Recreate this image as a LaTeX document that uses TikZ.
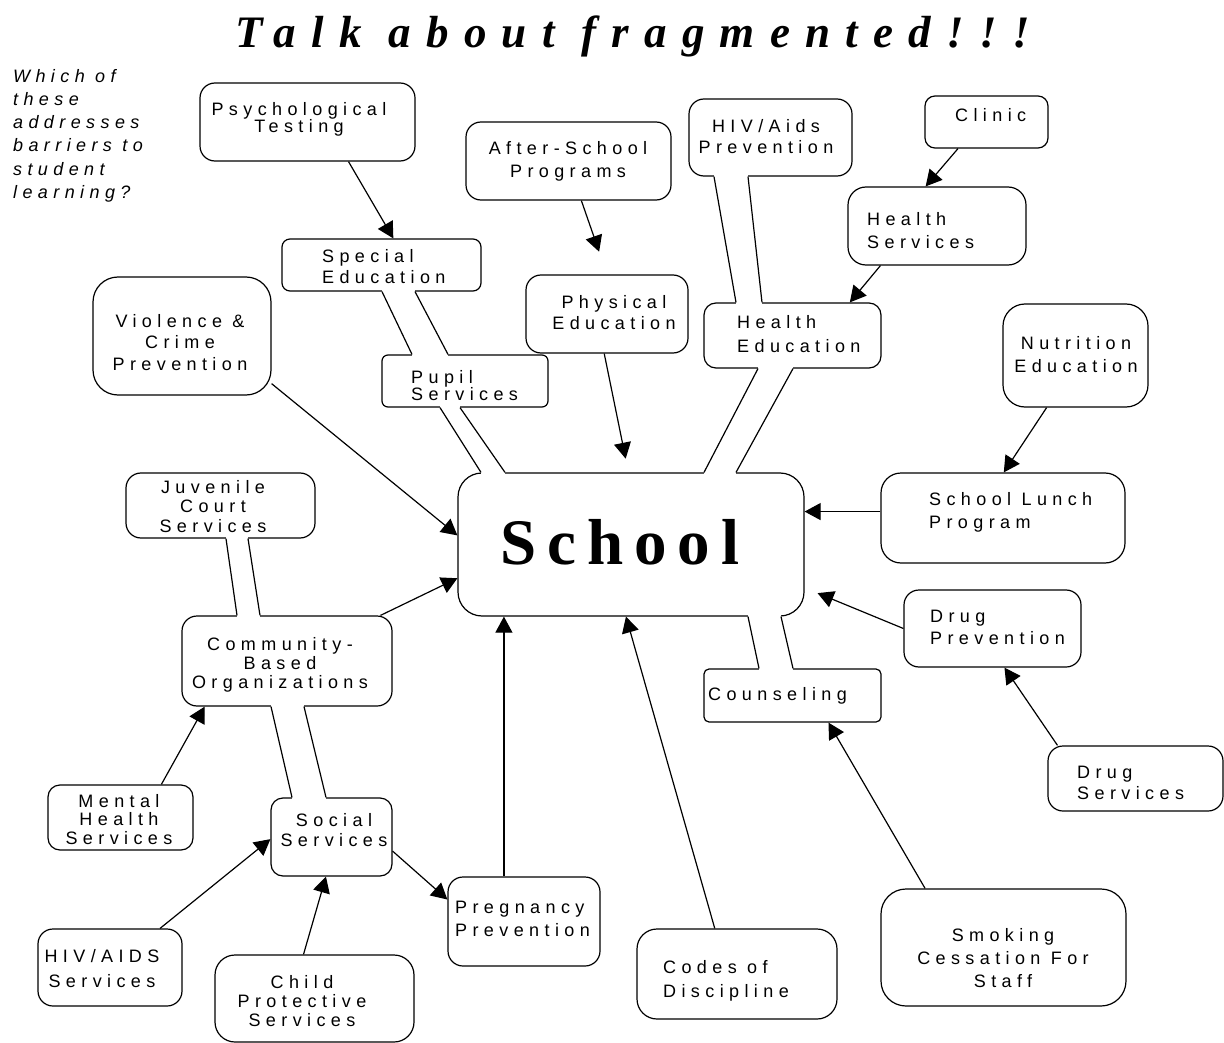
\documentclass[tikz,border=0pt]{standalone}
\usepackage{fontspec}
\usetikzlibrary{arrows.meta}
\newfontfamily\boxfont[LetterSpace=30]{Liberation Sans}
\newfontfamily\titlefont[LetterSpace=34]{Liberation Serif}
\newfontfamily\schoolfont[LetterSpace=17]{Liberation Serif}

\tikzset{
  box/.style={draw, line width=1.2pt, rounded corners=#1, inner sep=0pt},
  box/.default=15pt,
  txt/.style={font=\boxfont\fontsize{18}{#1}\selectfont, inner sep=0pt, align=center, anchor=north},
  txt/.default=21,
  arr/.style={line width=1.2pt, -{Triangle[length=16pt,width=17pt]}},
  link/.style={line width=1.2pt},
  gapline/.style={white, line width=3pt},
}

\begin{document}
\begin{tikzpicture}[x=1pt, y=-1pt]
    \useasboundingbox (0,0) rectangle (1224,1043);

    % Titre et question
    \node[anchor=base west, inner sep=0pt, font=\titlefont\bfseries\itshape\fontsize{45}{50}\selectfont] (title) at (235,48) {Talk about fragmented!!!};
    \node[inner sep=0pt, align=left, anchor=north west, font=\boxfont\itshape\fontsize{18}{23.2}\selectfont] (question) at (13,69) {Which of\\these\\addresses\\barriers to\\student\\learning?};

    % Boites
    \node[box=15pt, minimum width=215pt, minimum height=78pt] (psych) at (307.5,122) {};
    \node[box=15pt, minimum width=205pt, minimum height=78pt] (after) at (568.5,161) {};
    \node[box=15pt, minimum width=163pt, minimum height=77pt] (hivp) at (770.5,137.5) {};
    \node[box=10pt, minimum width=123pt, minimum height=52pt] (clinic) at (986.5,122) {};
    \node[box=18pt, minimum width=178pt, minimum height=78pt] (hserv) at (937,226) {};
    \node[box=8pt, minimum width=199pt, minimum height=52pt] (spec) at (381.5,265) {};
    \node[box=15pt, minimum width=162pt, minimum height=78pt] (phys) at (607,314) {};
    \node[box=12pt, minimum width=177pt, minimum height=65pt] (hedu) at (792.5,335.5) {};
    \node[box=25pt, minimum width=178pt, minimum height=118pt] (viol) at (182,336) {};
    \node[box=6pt, minimum width=166pt, minimum height=52pt] (pupil) at (465,381) {};
    \node[box=22pt, minimum width=145pt, minimum height=103pt] (nutr) at (1075.5,355.5) {};
    \node[box=24pt, minimum width=346pt, minimum height=143pt] (school) at (631,544.5) {};
    \node[box=15pt, minimum width=189pt, minimum height=65pt] (juv) at (220.5,505.5) {};
    \node[box=20pt, minimum width=244pt, minimum height=90pt] (lunch) at (1003,518) {};
    \node[box=15pt, minimum width=210pt, minimum height=90pt] (comm) at (287,661) {};
    \node[box=15pt, minimum width=177pt, minimum height=77pt] (drugp) at (992.5,628.5) {};
    \node[box=5pt, minimum width=177pt, minimum height=53pt] (couns) at (792.5,695.5) {};
    \node[box=15pt, minimum width=175pt, minimum height=65pt] (drugs) at (1135.5,778.5) {};
    \node[box=12pt, minimum width=145pt, minimum height=65pt] (mental) at (120.5,817.5) {};
    \node[box=12pt, minimum width=121pt, minimum height=78pt] (social) at (331.5,837) {};
    \node[box=15pt, minimum width=152pt, minimum height=89pt] (preg) at (524,921.5) {};
    \node[box=25pt, minimum width=245pt, minimum height=117pt] (smoke) at (1003.5,947.5) {};
    \node[box=20pt, minimum width=200pt, minimum height=90pt] (codes) at (737,974) {};
    \node[box=15pt, minimum width=144pt, minimum height=77pt] (hiva) at (110,967.5) {};
    \node[box=20pt, minimum width=199pt, minimum height=87pt] (child) at (314.5,998.5) {};

    % Textes
    \node[txt=17] (psych-t) at (299,102) {Psychological\\Testing};
    \node[txt=23] (after-t) at (568,141) {After-School\\Programs};
    \node[txt=21] (hivp-t) at (766,119) {HIV/Aids\\Prevention};
    \node[txt, anchor=north west] (clinic-t) at (955,108) {Clinic};
    \node[txt=23, align=left, anchor=north west] (hserv-t) at (867,212) {Health\\Services};
    \node[txt=21, align=left, anchor=north west] (spec-t) at (322,249) {Special\\Education};
    \node[txt=21] (phys-t) at (614,295) {Physical\\Education};
    \node[txt=24, align=left, anchor=north west] (hedu-t) at (737,315) {Health\\Education};
    \node[txt=21.5] (viol-t) at (180,314) {Violence \&\\Crime\\Prevention};
    \node[txt=17, align=left, anchor=north west] (pupil-t) at (411,370) {Pupil\\Services};
    \node[txt=23] (nutr-t) at (1076,336) {Nutrition\\Education};
    \node[anchor=base west, inner sep=0pt, font=\schoolfont\bfseries\fontsize{65}{70}\selectfont] (school-t) at (500,564) {School};
    \node[txt=19.5] (juv-t) at (213,480) {Juvenile\\Court\\Services};
    \node[txt=23, align=left, anchor=north west] (lunch-t) at (929,492) {School Lunch\\Program};
    \node[txt=19] (comm-t) at (280,637) {Community-\\Based\\Organizations};
    \node[txt=22, align=left, anchor=north west] (drugp-t) at (930,610) {Drug\\Prevention};
    \node[txt, anchor=north west] (couns-t) at (708,687) {Counseling};
    \node[txt=21, align=left, anchor=north west] (drugs-t) at (1077,766) {Drug\\Services};
    \node[txt=18.5] (mental-t) at (119,794) {Mental\\Health\\Services};
    \node[txt=20] (social-t) at (334,813) {Social\\Services};
    \node[txt=23, align=left, anchor=north west] (preg-t) at (455,901) {Pregnancy\\Prevention};
    \node[txt=23] (smoke-t) at (1003,928) {Smoking\\Cessation For\\Staff};
    \node[txt=24, align=left, anchor=north west] (codes-t) at (663,960) {Codes of\\Discipline};
    \node[txt=25] (hiva-t) at (102,949) {HIV/AIDS\\Services};
    \node[txt=19] (child-t) at (302,975) {Child\\Protective\\Services};

    % Liaisons doubles
    \draw[gapline] ([xshift=0.5pt]spec.south) -- ([xshift=33.5pt]spec.south)
                   ([xshift=-53pt]pupil.north) -- ([xshift=-17pt]pupil.north);
    \draw[link] ([xshift=0.5pt]spec.south) -- ([xshift=-53pt]pupil.north)
                ([xshift=33.5pt]spec.south) -- ([xshift=-17pt]pupil.north);
    \draw[gapline] ([xshift=-25pt]pupil.south) -- ([xshift=-5pt]pupil.south)
                   ([xshift=-150pt]school.north) -- ([xshift=-126pt]school.north);
    \draw[link] ([xshift=-25pt]pupil.south) -- ([xshift=-150pt]school.north)
                ([xshift=-5pt]pupil.south) -- ([xshift=-126pt]school.north);
    \draw[gapline] ([xshift=-56.5pt]hivp.south) -- ([xshift=-22.5pt]hivp.south)
                   ([xshift=-56.5pt]hedu.north) -- ([xshift=-30.5pt]hedu.north);
    \draw[link] ([xshift=-56.5pt]hivp.south) -- ([xshift=-56.5pt]hedu.north)
                ([xshift=-22.5pt]hivp.south) -- ([xshift=-30.5pt]hedu.north);
    \draw[gapline] ([xshift=-34.5pt]hedu.south) -- ([xshift=0.5pt]hedu.south)
                   ([xshift=73pt]school.north) -- ([xshift=105pt]school.north);
    \draw[link] ([xshift=-34.5pt]hedu.south) -- ([xshift=73pt]school.north)
                ([xshift=0.5pt]hedu.south) -- ([xshift=105pt]school.north);
    \draw[gapline] ([xshift=117pt]school.south) -- ([xshift=150pt]school.south)
                   ([xshift=-33.5pt]couns.north) -- ([xshift=0.5pt]couns.north);
    \draw[link] ([xshift=117pt]school.south) -- ([xshift=-33.5pt]couns.north)
                ([xshift=150pt]school.south) -- ([xshift=0.5pt]couns.north);
    \draw[gapline] ([xshift=5.5pt]juv.south) -- ([xshift=27.5pt]juv.south)
                   ([xshift=-50pt]comm.north) -- ([xshift=-27pt]comm.north);
    \draw[link] ([xshift=5.5pt]juv.south) -- ([xshift=-50pt]comm.north)
                ([xshift=27.5pt]juv.south) -- ([xshift=-27pt]comm.north);
    \draw[gapline] ([xshift=-16pt]comm.south) -- ([xshift=17pt]comm.south)
                   ([xshift=-39.5pt]social.north) -- ([xshift=-5.5pt]social.north);
    \draw[link] ([xshift=-16pt]comm.south) -- ([xshift=-39.5pt]social.north)
                ([xshift=17pt]comm.south) -- ([xshift=-5.5pt]social.north);

    % Fleches
    \draw[arr] (psych.-44) -- (spec.66);
    \draw[arr, shorten >=24pt] (after.-72) -- (phys.north);
    \draw[arr, shorten >=14pt] (phys.-94) -- (school.92);
    \draw[arr] (clinic.-137) -- (hserv.106);
    \draw[arr] (hserv.-145) -- (hedu.30);
    \draw[arr] (nutr.-119) -- (lunch.89);
    \draw[arr] (lunch.177) -- (lunch.177 -| school.east);
    \draw[arr, shorten >=14pt] (drugp.west) -- (school.-14);
    \draw[arr] (drugs.157) -- (drugp.-73);
    \draw[arr] (smoke.143) -- (couns.-37.5);
    \draw[arr] (codes.116) -- (school.-94);
    \draw[arr] (preg.114) -- (preg.114 |- school.south);
    \draw[arr] (social.-13) -- (preg.164);
    \draw[arr] (child.104) -- (social.-98);
    \draw[arr] (hiva.38) -- (social.182);
    \draw[arr] (mental.39) -- (comm.-151);
    \draw[arr] (comm.26) -- (school.191);
    \draw[arr] (viol.-28) -- (school.177);
\end{tikzpicture}
\end{document}
